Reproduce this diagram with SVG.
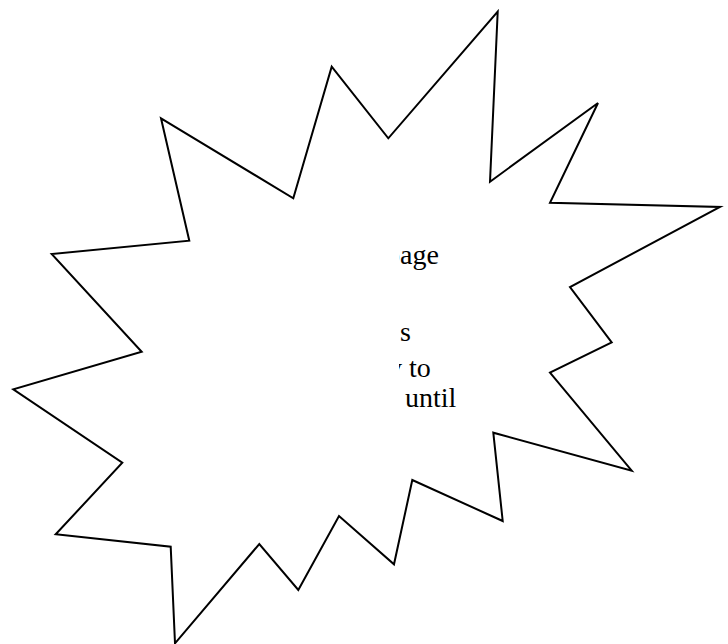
<svg xmlns="http://www.w3.org/2000/svg" width="728" height="644" viewBox="0 0 728 644">
  <style>
    .star { fill: #ffffff; stroke: #000000; stroke-width: 2; stroke-linejoin: miter; }
    .label { font-family: "Liberation Serif", "Times New Roman", serif; font-size: 28px; fill: #000000; }
  </style>
  <defs>
    <clipPath id="textClip">
      <rect x="399" y="200" width="260" height="260"/>
    </clipPath>
  </defs>
  <rect width="728" height="644" fill="#ffffff"/>
  <g id="star">
    <polygon class="star" points="497.7,11.7 490,181.7 598,103 550,202.7 720,207 570,287 611.7,342.3 550,372.7 631.7,470.7 493.3,432.7 502.7,521 412.3,480 394,564.3 339,516 298.3,590 259.3,544 175,643.3 170.7,546.7 55.7,534.3 122.3,462.7 13.3,389.3 141.7,351.7 51.7,254 189.3,240.7 161,118.3 293.3,198.3 331.7,66.7 388.3,138.3"/>
  </g>
  <g id="star-text" clip-path="url(#textClip)">
    <text class="label" x="386" y="264">page</text>
    <text class="label" x="400" y="341">s</text>
    <text class="label" x="388" y="377">y to</text>
    <text class="label" x="405" y="407">until</text>
  </g>
</svg>
